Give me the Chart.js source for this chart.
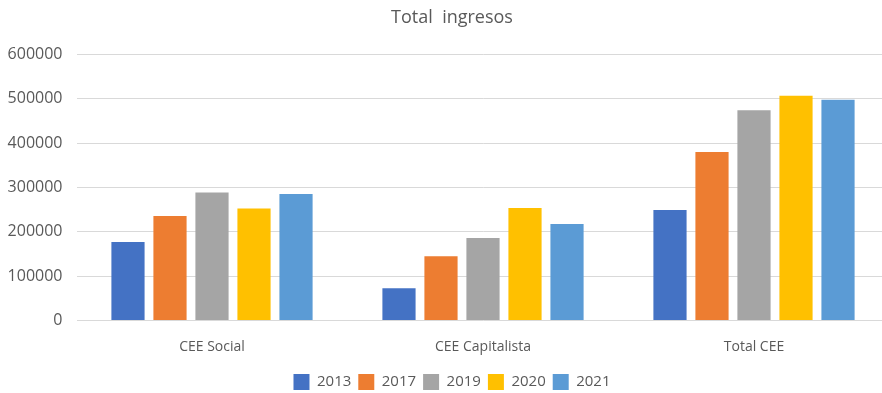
<!DOCTYPE html>
<html>
<head>
<meta charset="utf-8">
<script src="https://cdn.jsdelivr.net/npm/chart.js@4/dist/chart.umd.min.js"></script>
<style>
  html, body { margin: 0; padding: 0; background: #fff; overflow: hidden; }
  canvas { display: block; }
</style>
</head>
<body>
<canvas id="myChart" width="904" height="400"></canvas>
<script>
const categories = ['CEE Social', 'CEE Capitalista', 'Total CEE'];
const years = ['2013', '2017', '2019', '2020', '2021'];
const values2013 = [177000, 72800, 249300];
const values2017 = [235700, 145200, 380500];
const values2019 = [289100, 186000, 474700];
const values2020 = [252900, 253800, 507200];
const values2021 = [285500, 217600, 498200];
const colors = ['#4472C4', '#ED7D31', '#A5A5A5', '#FFC000', '#5B9BD5'];

const series = [values2013, values2017, values2019, values2020, values2021];
const textColor = '#595959';
const fontFamily = '"Open Sans", sans-serif';

const ctx = document.getElementById('myChart').getContext('2d');
const myChart = new Chart(ctx, {
  type: 'bar',
  data: {
    labels: categories,
    datasets: series.map((data, i) => ({
      label: years[i],
      data,
      backgroundColor: colors[i],
      categoryPercentage: 0.775,
      barPercentage: 0.79
    }))
  },
  options: {
    responsive: false,
    animation: false,
    layout: { padding: { top: 7, right: 0, bottom: 0, left: 0 } },
    plugins: {
      title: {
        display: true,
        text: 'Total  ingresos',
        color: textColor,
        font: { family: fontFamily, size: 18, weight: 'normal' },
        padding: { top: 0, bottom: 26 }
      },
      legend: {
        position: 'bottom',
        labels: {
          color: textColor,
          font: { family: fontFamily, size: 15 },
          boxWidth: 16,
          boxHeight: 16,
          padding: 7
        }
      },
      tooltip: { enabled: false }
    },
    scales: {
      x: {
        afterFit: (scale) => { scale.height = 46.5; },
        grid: { display: false, drawTicks: false },
        border: { display: false },
        ticks: {
          color: textColor,
          font: { family: fontFamily, size: 14 },
          padding: 18.5
        }
      },
      y: {
        min: 0,
        max: 600000,
        afterFit: (scale) => { scale.width = 76.5; },
        grid: { color: '#D9D9D9', drawTicks: false },
        border: { display: false },
        ticks: {
          stepSize: 100000,
          color: textColor,
          font: { family: fontFamily, size: 16 },
          padding: 14,
          callback: (value) => String(value)
        }
      },
      // empty right-hand strip so the plot stops short of the title/legend centre
      spacer: {
        position: 'right',
        afterFit: (scale) => { scale.width = 14.5; },
        grid: { display: false, drawTicks: false },
        border: { display: false },
        ticks: { display: false }
      }
    }
  }
});
</script>
</body>
</html>
